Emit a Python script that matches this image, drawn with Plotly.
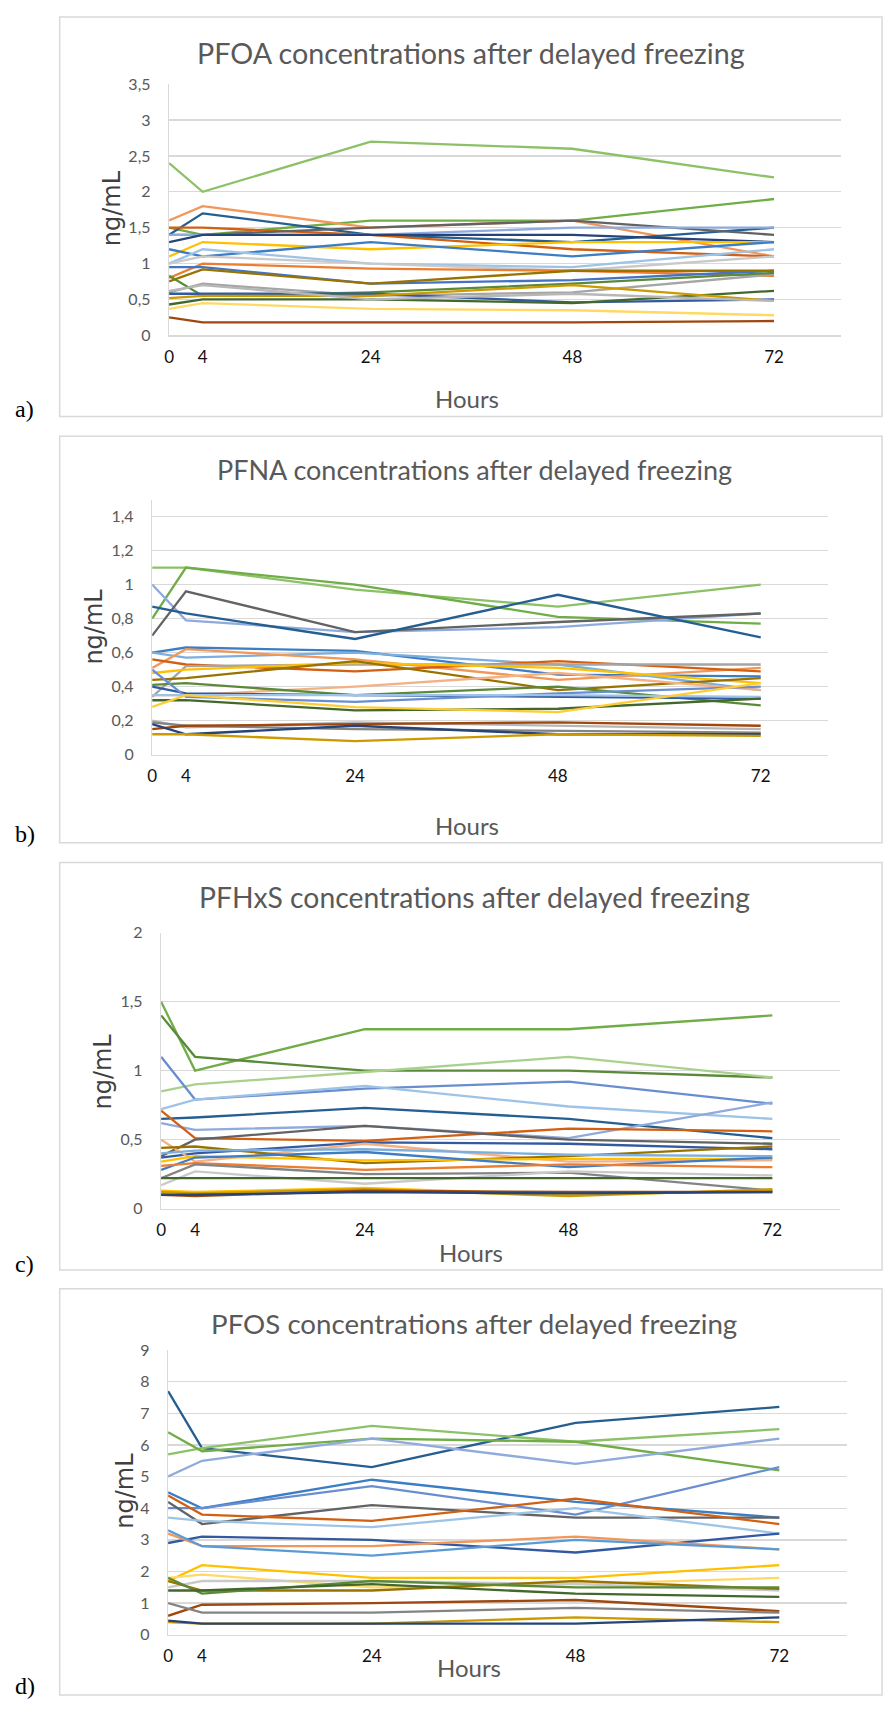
import plotly.graph_objects as go

W, H = 886, 1715

hours = [0, 4, 24, 48, 72]
hour_labels = ["0", "4", "24", "48", "72"]

# ---------------- PFOA (a) ----------------
pfoa_values = [
    [2.4, 2.0, 2.7, 2.6, 2.2],
    [1.5, 1.4, 1.6, 1.6, 1.9],
    [1.6, 1.8, 1.5, 1.6, 1.1],
    [1.4, 1.7, 1.4, 1.3, 1.5],
    [1.5, 1.5, 1.4, 1.2, 1.1],
    [1.4, 1.4, 1.5, 1.6, 1.4],
    [1.4, 1.4, 1.4, 1.5, 1.5],
    [1.3, 1.4, 1.4, 1.4, 1.3],
    [1.1, 1.3, 1.2, 1.3, 1.3],
    [1.2, 1.1, 1.3, 1.1, 1.3],
    [1.0, 1.2, 1.0, 0.95, 1.2],
    [1.0, 1.1, 1.0, 0.9, 1.1],
    [0.8, 1.0, 0.93, 0.9, 0.83],
    [0.95, 0.95, 0.72, 0.77, 0.9],
    [0.75, 0.92, 0.72, 0.9, 0.9],
    [0.6, 0.72, 0.55, 0.6, 0.85],
    [0.83, 0.55, 0.6, 0.72, 0.87],
    [0.58, 0.58, 0.58, 0.46, 0.5],
    [0.43, 0.5, 0.5, 0.45, 0.62],
    [0.52, 0.55, 0.55, 0.7, 0.48],
    [0.62, 0.7, 0.5, 0.58, 0.48],
    [0.37, 0.45, 0.37, 0.35, 0.28],
    [0.25, 0.18, 0.18, 0.18, 0.2],
]
pfoa_colors = [
    "#8CC168", "#70AD47", "#F1975A", "#255E91", "#D26012", "#636363",
    "#8FAADC", "#264478", "#FFC000", "#3C7DC4", "#9DC3E6", "#C9C9C9",
    "#ED7D31", "#4472C4", "#997300", "#A5A5A5", "#5A8A39", "#335AA1",
    "#43682B", "#CC9A00", "#B7B7B7", "#FFD966", "#9E480E",
]

# ---------------- PFNA (b) ----------------
pfna_values = [
    [1.1, 1.1, 0.97, 0.87, 1.0],
    [0.8, 1.1, 1.0, 0.81, 0.77],
    [1.0, 0.79, 0.72, 0.75, 0.83],
    [0.7, 0.96, 0.72, 0.78, 0.83],
    [0.87, 0.83, 0.68, 0.94, 0.69],
    [0.6, 0.63, 0.61, 0.47, 0.46],
    [0.6, 0.57, 0.6, 0.53, 0.38],
    [0.51, 0.62, 0.56, 0.44, 0.51],
    [0.56, 0.53, 0.49, 0.55, 0.49],
    [0.34, 0.52, 0.53, 0.53, 0.53],
    [0.48, 0.5, 0.54, 0.51, 0.42],
    [0.44, 0.45, 0.55, 0.38, 0.45],
    [0.35, 0.35, 0.4, 0.48, 0.38],
    [0.41, 0.42, 0.35, 0.4, 0.29],
    [0.4, 0.36, 0.35, 0.34, 0.33],
    [0.5, 0.34, 0.31, 0.36, 0.4],
    [0.35, 0.35, 0.35, 0.35, 0.34],
    [0.32, 0.32, 0.26, 0.27, 0.33],
    [0.28, 0.35, 0.28, 0.25, 0.42],
    [0.2, 0.16, 0.19, 0.17, 0.15],
    [0.19, 0.17, 0.15, 0.14, 0.13],
    [0.15, 0.17, 0.18, 0.19, 0.17],
    [0.18, 0.12, 0.17, 0.12, 0.12],
    [0.12, 0.12, 0.08, 0.12, 0.11],
]
pfna_colors = [
    "#8CC168", "#70AD47", "#8FAADC", "#636363", "#255E91", "#3C7DC4",
    "#7CAFDD", "#F1975A", "#D26012", "#A5A5A5", "#FFC000", "#997300",
    "#F4B183", "#5A8A39", "#335AA1", "#698ED0", "#9DC3E6", "#43682B",
    "#FFCD33", "#B7B7B7", "#848484", "#9E480E", "#264478", "#CC9A00",
]

# ---------------- PFHxS (c) ----------------
pfhxs_values = [
    [1.5, 1.0, 1.3, 1.3, 1.4],
    [1.4, 1.1, 1.0, 1.0, 0.95],
    [0.85, 0.9, 0.99, 1.1, 0.95],
    [1.1, 0.79, 0.87, 0.92, 0.76],
    [0.72, 0.79, 0.89, 0.74, 0.65],
    [0.65, 0.66, 0.73, 0.65, 0.51],
    [0.62, 0.57, 0.6, 0.51, 0.77],
    [0.71, 0.51, 0.49, 0.58, 0.56],
    [0.38, 0.5, 0.6, 0.5, 0.47],
    [0.37, 0.4, 0.48, 0.47, 0.43],
    [0.5, 0.34, 0.47, 0.34, 0.35],
    [0.44, 0.45, 0.33, 0.38, 0.45],
    [0.34, 0.38, 0.35, 0.36, 0.36],
    [0.28, 0.37, 0.41, 0.3, 0.37],
    [0.4, 0.42, 0.43, 0.39, 0.38],
    [0.31, 0.33, 0.28, 0.32, 0.3],
    [0.22, 0.32, 0.25, 0.26, 0.13],
    [0.17, 0.27, 0.18, 0.27, 0.24],
    [0.22, 0.22, 0.22, 0.22, 0.22],
    [0.13, 0.12, 0.15, 0.1, 0.13],
    [0.12, 0.11, 0.14, 0.09, 0.14],
    [0.1, 0.09, 0.13, 0.12, 0.12],
    [0.1, 0.1, 0.12, 0.11, 0.12],
]
pfhxs_colors = [
    "#70AD47", "#5A8A39", "#A9D18E", "#698ED0", "#9DC3E6", "#255E91",
    "#8FAADC", "#D26012", "#636363", "#335AA1", "#F4B183", "#997300",
    "#FFC000", "#3C7DC4", "#7CAFDD", "#ED7D31", "#848484", "#C9C9C9",
    "#43682B", "#FFC000", "#CC9A00", "#9E480E", "#264478",
]

# ---------------- PFOS (d) ----------------
pfos_values = [
    [7.7, 5.9, 5.3, 6.7, 7.2],
    [5.7, 5.9, 6.6, 6.1, 6.5],
    [6.4, 5.8, 6.2, 6.1, 5.2],
    [5.0, 5.5, 6.2, 5.4, 6.2],
    [4.5, 4.0, 4.9, 4.2, 3.7],
    [4.0, 4.0, 4.7, 3.8, 5.3],
    [4.2, 3.5, 4.1, 3.7, 3.7],
    [4.4, 3.8, 3.6, 4.3, 3.5],
    [3.7, 3.6, 3.4, 4.0, 3.2],
    [2.9, 3.1, 3.0, 2.6, 3.2],
    [3.2, 2.8, 2.8, 3.1, 2.7],
    [3.3, 2.8, 2.5, 3.0, 2.7],
    [1.7, 2.2, 1.8, 1.8, 2.2],
    [1.8, 1.9, 1.5, 1.6, 1.8],
    [1.5, 1.7, 1.7, 1.6, 1.4],
    [1.7, 1.4, 1.4, 1.7, 1.45],
    [1.8, 1.3, 1.7, 1.5, 1.5],
    [1.4, 1.4, 1.6, 1.3, 1.2],
    [0.6, 0.95, 1.0, 1.1, 0.75],
    [1.0, 0.7, 0.7, 0.85, 0.7],
    [0.4, 0.35, 0.35, 0.55, 0.4],
    [0.45, 0.35, 0.35, 0.35, 0.55],
]
pfos_colors = [
    "#255E91", "#8CC168", "#70AD47", "#8FAADC", "#3C7DC4", "#698ED0",
    "#636363", "#D26012", "#9DC3E6", "#335AA1", "#F1975A", "#5B9BD5",
    "#FFC000", "#FFD966", "#C9C9C9", "#997300", "#5A8A39", "#43682B",
    "#9E480E", "#848484", "#CC9A00", "#264478",
]

titles = [
    "PFOA concentrations after delayed freezing",
    "PFNA concentrations after delayed freezing",
    "PFHxS concentrations after delayed freezing",
    "PFOS concentrations after delayed freezing",
]
panel_labels = ["a)", "b)", "c)", "d)"]

# layout geometry in page pixels
panels = [
    dict(vals=pfoa_values, cols=pfoa_colors, x0=165, x1=841, ytop=75, ybot=329,
         yr=[0, 3.5], yt=[0, 0.5, 1, 1.5, 2, 2.5, 3, 3.5],
         frame=(55, 7, 882, 411), title=(469, 43, 28.7), hours=(465, 393),
         ylab=(107, 200), plab=(20, 403)),
    dict(vals=pfna_values, cols=pfna_colors, x0=148, x1=828, ytop=495, ybot=753,
         yr=[0, 1.5], yt=[0, 0.2, 0.4, 0.6, 0.8, 1.0, 1.2, 1.4],
         frame=(55, 431, 882, 842), title=(472, 465, 27.0), hours=(465, 825),
         ylab=(90, 623), plab=(20, 833)),
    dict(vals=pfhxs_values, cols=pfhxs_colors, x0=157, x1=840, ytop=933, ybot=1212,
         yr=[0, 2], yt=[0, 0.5, 1, 1.5, 2],
         frame=(55, 862, 882, 1274), title=(472, 897, 28.3), hours=(469, 1256),
         ylab=(99, 1073), plab=(20, 1268)),
    dict(vals=pfos_values, cols=pfos_colors, x0=164, x1=847, ytop=1355, ybot=1643,
         yr=[0, 9], yt=list(range(0, 10)),
         frame=(55, 1293, 882, 1704), title=(472, 1328, 27.7), hours=(467, 1676),
         ylab=(121, 1497), plab=(20, 1695)),
]

def fx(x):
    return x / W

def fy(y):
    return 1 - y / H

fig = go.Figure()
annotations = []
shapes = []
layout_axes = {}

GRID = "#D9D9D9"
TXT = "#595959"

for i, p in enumerate(panels):
    n = "" if i == 0 else str(i + 1)
    xa, ya = "x" + n, "y" + n
    for vals, col in zip(p["vals"], p["cols"]):
        fig.add_trace(go.Scatter(
            x=hours, y=vals, mode="lines", xaxis=xa, yaxis=ya,
            line=dict(color=col, width=2.3), showlegend=False, hoverinfo="skip"))
    layout_axes["xaxis" + n] = dict(
        domain=[fx(p["x0"]), fx(p["x1"])], range=[0, 80], anchor=ya,
        tickvals=hours, ticktext=hour_labels, showgrid=False, zeroline=False,
        showline=True, linecolor=GRID, linewidth=1.3, ticks="", ticklen=0,
        ticklabelstandoff=6, fixedrange=True,
        tickfont=dict(family="Lato", size=17, color="#111111"))
    layout_axes["yaxis" + n] = dict(
        domain=[fy(p["ybot"]), fy(p["ytop"])], range=p["yr"], anchor=xa,
        tickvals=p["yt"], showgrid=True, gridcolor=GRID, gridwidth=1.3,
        zeroline=False, showline=True, linecolor=GRID, linewidth=1.3, ticks="",
        ticklen=0, ticklabelstandoff=14, fixedrange=True,
        tickfont=dict(family="Lato", size=16, color=TXT))
    fl, ft, fr, fb = p["frame"]
    shapes.append(dict(type="rect", xref="paper", yref="paper",
                       x0=fx(fl), x1=fx(fr), y0=fy(fb), y1=fy(ft),
                       line=dict(color=GRID, width=1.5), layer="below"))
    tx, ty, ts = p["title"]
    annotations.append(dict(text=titles[i], x=fx(tx), y=fy(ty), xref="paper",
                            yref="paper", showarrow=False, xanchor="center",
                            yanchor="middle",
                            font=dict(family="Lato", size=ts, color=TXT)))
    hx, hy = p["hours"]
    annotations.append(dict(text="Hours", x=fx(hx), y=fy(hy), xref="paper",
                            yref="paper", showarrow=False, xanchor="center",
                            yanchor="middle",
                            font=dict(family="Lato", size=24, color=TXT)))
    lx, ly = p["ylab"]
    annotations.append(dict(text="ng/mL", x=fx(lx), y=fy(ly), xref="paper",
                            yref="paper", showarrow=False, xanchor="center",
                            yanchor="middle", textangle=-90,
                            font=dict(family="DejaVu Sans", size=24, color="#404040")))
    px_, py_ = p["plab"]
    annotations.append(dict(text=panel_labels[i], x=fx(px_), y=fy(py_), xref="paper",
                            yref="paper", showarrow=False, xanchor="center",
                            yanchor="middle",
                            font=dict(family="Liberation Serif", size=24, color="#000000")))

fig.update_layout(
    width=W, height=H, autosize=False,
    margin=dict(l=0, r=0, t=0, b=0),
    paper_bgcolor="white", plot_bgcolor="white",
    separators=", ",
    annotations=annotations, shapes=shapes,
    **layout_axes,
)

fig.write_html("out.html",
               config={"displayModeBar": False, "staticPlot": True},
               post_script="document.body.style.margin='0';document.body.style.padding='0';")
